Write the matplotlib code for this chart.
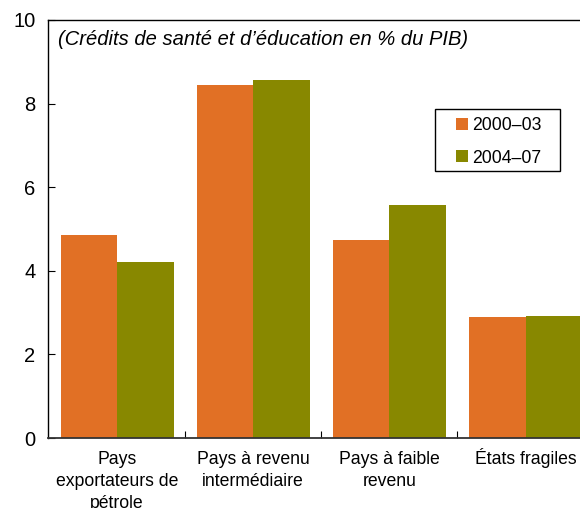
import numpy as np
import matplotlib
matplotlib.use("Agg")
import matplotlib.pyplot as plt
from matplotlib.patches import Rectangle

plt.rcParams['font.family'] = ['Liberation Sans', 'DejaVu Sans']

categories = ["Pays\nexportateurs de\npétrole", "Pays à revenu\nintermédiaire",
              "Pays à faible\nrevenu", "États fragiles"]
series_names = ["2000–03", "2004–07"]
vals_2000_03 = [4.86, 8.44, 4.74, 2.89]
vals_2004_07 = [4.21, 8.56, 5.57, 2.92]
colors = ["#E17025", "#888800"]

fig = plt.figure(figsize=(5.8, 5.08), dpi=100)
ax = fig.add_axes([48 / 580, 70 / 508, 1 - 48 / 580, 418 / 508])

x = np.arange(len(categories))
w = 0.415
ax.bar(x - w / 2, vals_2000_03, w, color=colors[0], label=series_names[0])
ax.bar(x + w / 2, vals_2004_07, w, color=colors[1], label=series_names[1])

ax.set_yticks([0, 2, 4, 6, 8, 10])
ax.set_xticks(x[:-1] + 0.5)
ax.set_xticklabels([])
ax.set_xlim(-0.507, 3.40)
ax.set_ylim(0, 10)
ax.tick_params(axis='x', direction='in', length=5, width=0.8)
ax.tick_params(axis='y', direction='in', length=5, width=0.8, labelsize=14.5, pad=9)

# category labels: one text per line so all first lines share a baseline
line_step = 22 / 418
for xi, lab in zip(x, categories):
    for k, line in enumerate(lab.split("\n")):
        ax.text(xi, -26 / 418 - k * line_step, line, transform=ax.get_xaxis_transform(),
                ha='center', va='baseline', fontsize=12.7)

ax.spines['right'].set_visible(False)
ax.spines['top'].set_linewidth(1.0)
ax.spines['left'].set_linewidth(1.0)
ax.spines['bottom'].set_linewidth(1.3)
ax.spines['bottom'].set_color('#333333')

ax.text(10 / 532, 0.953, "(Crédits de santé et d’éducation en % du PIB)",
        transform=ax.transAxes, fontsize=14.5, style='italic', va='center', ha='left')

# legend with a wider hand-drawn frame
leg = ax.legend(loc='upper left', bbox_to_anchor=((456 - 48) / 532, (438 - 117) / 418),
                fontsize=12.7, frameon=False, handlelength=0.68,
                handleheight=0.68, handletextpad=0.25, labelspacing=0.88,
                borderpad=0, borderaxespad=0)
ax.add_patch(Rectangle(((435 - 48) / 532, (438 - 171) / 418), 125 / 532, 62 / 418,
                       transform=ax.transAxes, fill=False, edgecolor='black',
                       linewidth=1.0, zorder=5))

plt.savefig("out.png", dpi=100)
